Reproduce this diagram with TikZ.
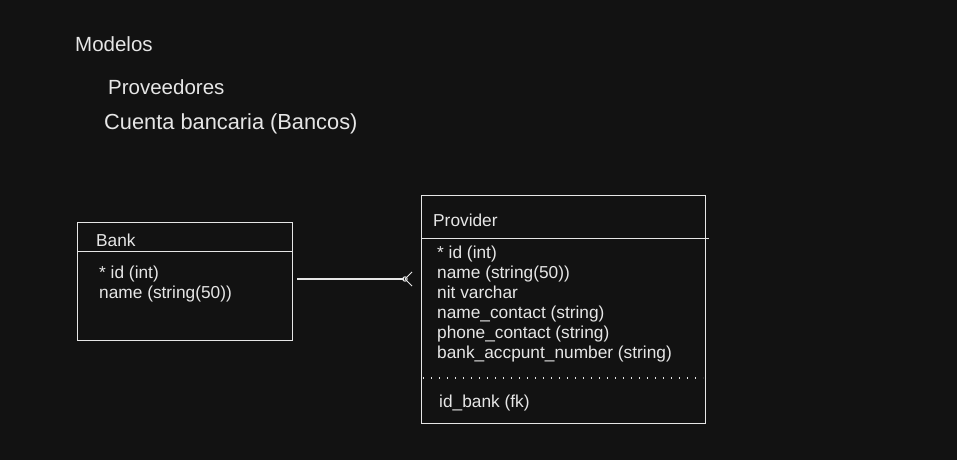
\documentclass[tikz,border=0pt]{standalone}
\usepackage{fontspec}
\setmainfont{Liberation Sans}
\definecolor{bg}{RGB}{18,18,18}
\definecolor{ink}{RGB}{230,230,230}
\begin{document}
\begin{tikzpicture}[x=1pt,y=-1pt,
  title/.style={anchor=base west,inner sep=0pt,text=ink,font=\fontsize{20.5}{24}\selectfont},
  field/.style={anchor=base west,inner sep=0pt,text=ink,font=\fontsize{17.3}{20}\selectfont},
  entity/.style={draw=ink,line width=1pt,anchor=north west,inner sep=0pt},
  rule/.style={draw=ink,line width=1pt},
  link/.style={draw=ink,line width=1.3pt}]
\fill[bg] (0,0) rectangle (957,460);
\useasboundingbox (0,0) rectangle (957,460);
% titles
\node[title] (t1) at (75,52) {Modelos};
\node[title] (t2) at (108,94) {Proveedores};
\node[title,font=\fontsize{21.8}{24}\selectfont] (t3) at (104,129) {Cuenta bancaria (Bancos)};
% Bank entity
\node[entity,minimum width=215pt,minimum height=118pt] (bank) at (77,222) {};
\draw[rule] ([yshift=-29pt]bank.north west) -- ([yshift=-29pt]bank.north east);
\node[field] (bankh) at (96,246) {Bank};
\node[field] (bank1) at (99,278) {* id (int)};
\node[field] (bank2) at (99,298) {name (string(50))};
% Provider entity
\node[entity,minimum width=284pt,minimum height=228pt] (prov) at (421,195) {};
\draw[rule] ([yshift=-43pt]prov.north west) -- ([yshift=-43pt,xshift=3pt]prov.north east);
\draw[rule,line width=1.2pt,dash pattern=on 1.2pt off 6.8pt] ([yshift=-183pt,xshift=2pt]prov.north west) -- ([yshift=-183pt,xshift=-3pt]prov.north east);
\node[field] (provh) at (433,226) {Provider};
\node[field] (p1) at (437,258) {* id (int)};
\node[field] (p2) at (437,278) {name (string(50))};
\node[field] (p3) at (437,298) {nit varchar};
\node[field] (p4) at (437,318) {name\_contact (string)};
\node[field] (p5) at (437,338) {phone\_contact (string)};
\node[field] (p6) at (437,358) {bank\_accpunt\_number (string)};
\node[field] (p7) at (439,407) {id\_bank (fk)};
% connector
\coordinate (ls) at (297,279);
\coordinate (le) at (404,279);
\coordinate (fu) at (412,272);
\coordinate (fd) at (412,286);
\draw[link] (ls) -- (le);
\draw[ink,line width=1pt] ([xshift=1pt]le) circle (2.2pt);
\draw[ink,line width=1pt] ([xshift=1pt]le) -- (fu);
\draw[ink,line width=1pt] ([xshift=1pt]le) -- (fd);
\end{tikzpicture}
\end{document}
